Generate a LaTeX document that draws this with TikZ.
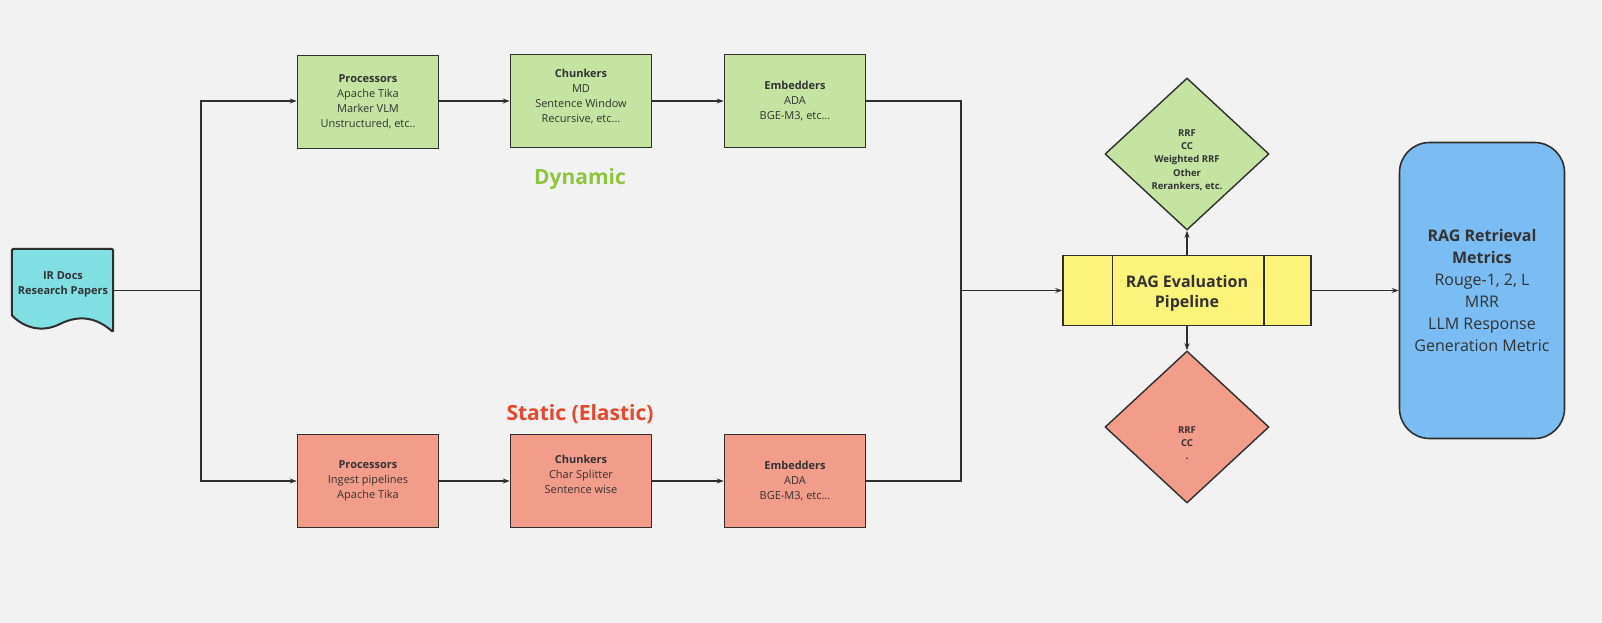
\documentclass[tikz,border=0pt]{standalone}
\usepackage{fontspec}
\setmainfont{Open Sans}
\usepackage{tikz}
\usetikzlibrary{arrows.meta,positioning,shapes.geometric}
\definecolor{bgcanvas}{HTML}{F2F2F2}
\definecolor{inkdark}{HTML}{2F2F2F}
\definecolor{textdark}{HTML}{333333}
\definecolor{dynfill}{HTML}{C5E3A1}
\definecolor{statfill}{HTML}{F29C8A}
\definecolor{pipefill}{HTML}{FBF37A}
\definecolor{docfill}{HTML}{7FDFE3}
\definecolor{metricfill}{HTML}{7BBDF2}
\definecolor{dyngreen}{HTML}{8CC63F}
\definecolor{statred}{HTML}{E8472B}

\begin{document}
\begin{tikzpicture}[
    x=1pt, y=-1pt,
    >={Stealth[length=7pt,width=5pt]},
    every node/.style={text=textdark, align=center},
    stage/.style={
        rectangle,
        minimum width=141pt,
        minimum height=93pt,
        draw=inkdark,
        line width=1.6pt,
        inner sep=2pt,
        font=\fontsize{11}{15}\selectfont
    },
    fusion/.style={
        diamond,
        minimum width=164pt,
        minimum height=152pt,
        inner sep=0pt,
        draw=inkdark,
        line width=1.4pt
    },
    fusiontext/.style={font=\fontsize{9.5}{13.3}\selectfont\bfseries},
    link/.style={line width=1.4pt, draw=inkdark},
    arrow/.style={->, line width=1.4pt, draw=inkdark}
]
    % canvas
    \fill[bgcanvas] (0,0) rectangle (1602,623);
    \useasboundingbox (0,0) rectangle (1602,623);

    % === INPUT: document ===
    \node[minimum width=101pt, minimum height=83pt, inner sep=0pt] (doc) at (62.5,290.5) {};
    \filldraw[fill=docfill, draw=inkdark, line width=2pt, rounded corners=1.5pt]
        (doc.south west) ++(0,-17) -- (doc.north west) -- (doc.north east) -- (doc.south east)
        [sharp corners] .. controls (97,318) and (80,314) .. (60,324)
        .. controls (42,333) and (24,328) .. ([yshift=17pt]doc.south west) -- cycle;
    \node[font=\fontsize{11}{15}\selectfont\bfseries] (doctext) at (63,284) {IR Docs\\Research Papers};

    % junction points
    \coordinate (split) at (201,290.5);
    \coordinate (join) at (961,290.5);

    % === DYNAMIC branch ===
    \node[stage, fill=dynfill] (proctop) at (368,102) {\textbf{Processors}\\Apache Tika\\Marker VLM\\Unstructured, etc..};
    \node[stage, fill=dynfill] (chunktop) at (581,101) {\textbf{Chunkers}\\MD\\Sentence Window\\Recursive, etc...\\[-5pt]};
    \node[stage, fill=dynfill] (embtop) at (795,101) {\textbf{Embedders}\\ADA\\BGE-M3, etc...};
    \node[font=\fontsize{21}{24}\selectfont\bfseries, text=dyngreen] (dynlabel) at (580,179) {Dynamic};

    % === STATIC branch ===
    \node[stage, fill=statfill] (procbot) at (368,481) {\textbf{Processors}\\Ingest pipelines\\Apache Tika};
    \node[stage, fill=statfill] (chunkbot) at (581,481) {\textbf{Chunkers}\\Char Splitter\\Sentence wise\\[-1pt]};
    \node[stage, fill=statfill] (embbot) at (795,481) {\textbf{Embedders}\\ADA\\BGE-M3, etc...};
    \node[font=\fontsize{21}{24}\selectfont\bfseries, text=statred] (statlabel) at (580,414) {Static (Elastic)};

    % === EVALUATION ===
    \node[rectangle, draw=inkdark, line width=1.6pt, fill=pipefill, minimum width=248pt, minimum height=70pt] (pipe) at (1187,290.5) {};
    \draw[link] ([xshift=50pt]pipe.north west) -- ([xshift=50pt]pipe.south west);
    \draw[link] ([xshift=-48pt]pipe.north east) -- ([xshift=-48pt]pipe.south east);
    \node[font=\fontsize{16}{20}\selectfont\bfseries] (pipetext) at (1187,293) {RAG Evaluation\\Pipeline};

    \node[fusion, fill=dynfill] (rerankdyn) at (1187,154) {};
    \node[fusiontext] (rerankdyntext) at (1187,160) {RRF\\CC\\Weighted RRF\\Other\\Rerankers, etc.};
    \node[fusion, fill=statfill] (rerankstat) at (1187,427) {};
    \node[fusiontext] (rerankstattext) at (1187,443) {RRF\\CC\\.};

    % === METRICS ===
    \node[rectangle, rounded corners=30pt, draw=inkdark, line width=1.6pt, fill=metricfill,
          minimum width=165pt, minimum height=296pt, font=\fontsize{16}{22}\selectfont] (metrics) at (1482,290.5)
          {\textbf{RAG Retrieval}\\\textbf{Metrics}\\Rouge-1, 2, L\\MRR\\LLM Response\\Generation Metric};

    % connectors
    \draw[link] (doc.east) -- (split);
    \draw[arrow] (split) |- (proctop.west |- 0,101);
    \draw[arrow] (split) |- (procbot.west);
    \draw[arrow] (proctop.east |- 0,101) -- (chunktop);
    \draw[arrow] (chunktop) -- (embtop);
    \draw[arrow] (procbot) -- (chunkbot);
    \draw[arrow] (chunkbot) -- (embbot);
    \draw[link] (embtop.east) -| (join);
    \draw[link] (embbot.east) -| (join);
    \draw[arrow] (join) -- (pipe.west);
    \draw[arrow] (pipe.north) -- (rerankdyn.south);
    \draw[arrow] (pipe.south) -- (rerankstat.north);
    \draw[arrow] (pipe.east) -- (metrics.west);
\end{tikzpicture}
\end{document}
